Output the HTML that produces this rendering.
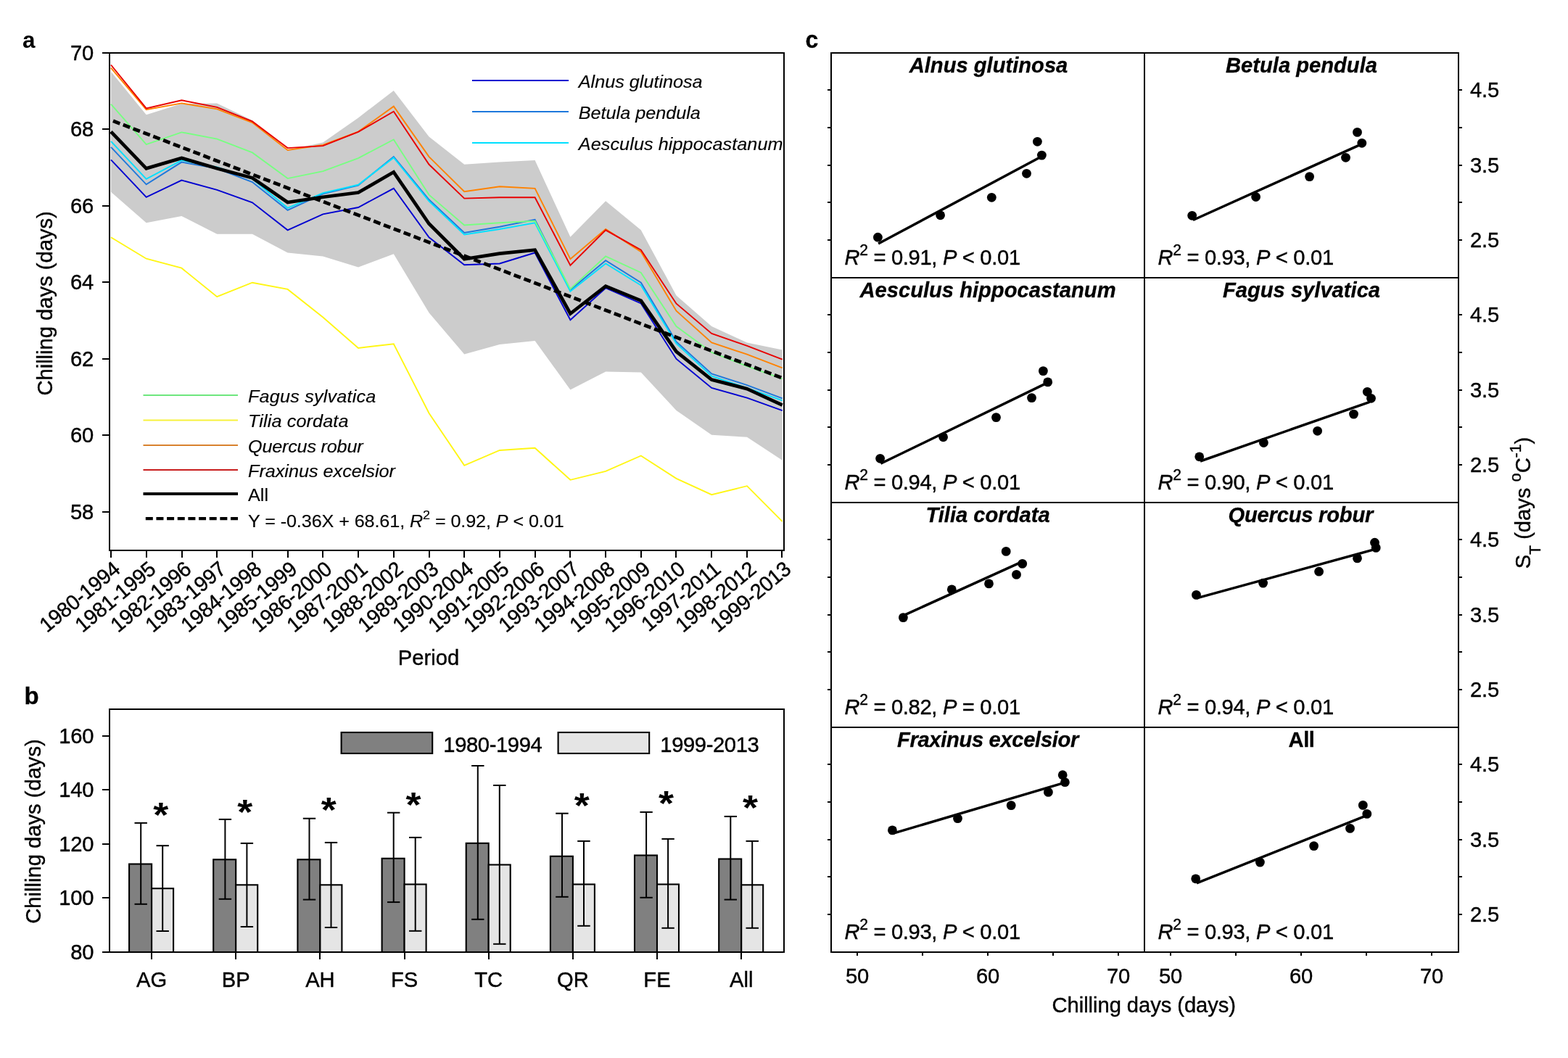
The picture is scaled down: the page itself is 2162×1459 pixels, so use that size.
<!DOCTYPE html>
<html lang="en">
<head>
<meta charset="utf-8">
<title>Chilling days and temperature sensitivity</title>
<style>
html,body{margin:0;padding:0;background:#fff;}
body{width:2162px;height:1459px;overflow:hidden;}
svg{display:block;}
svg text{font-family:"Liberation Sans", sans-serif;fill:#000;}
</style>
</head>
<body>
<svg width="2162" height="1459" viewBox="0 0 2162 1459">
<rect width="2162" height="1459" fill="#fff"/>
<g id="panel-a">
<polyline points="153,98.7 201.7,158.2 250.4,143 299.2,142.4 347.9,166 396.6,207 445.3,196.6 494,162.4 542.8,124.9 591.5,188.6 640.2,226.8 688.9,223.6 737.6,221.1 786.4,326.8 835.1,277.3 883.8,317.3 932.5,407.5 981.2,450 1030,472.4 1078.7,482.4 1078.7,634.8 1030,602.8 981.2,599.8 932.5,566.1 883.8,513.6 835.1,512.4 786.4,537.4 737.6,469.9 688.9,474.9 640.2,488.5 591.5,431.2 542.8,350.2 494,368.5 445.3,353.5 396.6,348.5 347.9,322.8 299.2,322.8 250.4,298 201.7,307.3 153,264.8" fill="#cccccc" stroke="none"/>
<polyline points="153,327.3 201.7,356.7 250.4,369.7 299.2,409.2 347.9,389.7 396.6,398.9 445.3,437.5 494,479.9 542.8,474.2 591.5,569.8 640.2,641.8 688.9,621 737.6,617.8 786.4,661.8 835.1,649.8 883.8,628.5 932.5,659.8 981.2,682.2 1030,670.2 1078.7,719.2" fill="none" stroke="#fff614" stroke-width="1.9" stroke-linejoin="miter"/>
<polyline points="153,220.4 201.7,271.8 250.4,248.6 299.2,261.8 347.9,279.3 396.6,317.3 445.3,295.3 494,286 542.8,259.8 591.5,327.3 640.2,365.2 688.9,363.5 737.6,348.5 786.4,441.2 835.1,397.2 883.8,418.4 932.5,494.9 981.2,534.9 1030,548.6 1078.7,566.1" fill="none" stroke="#0000d0" stroke-width="1.9" stroke-linejoin="miter"/>
<polyline points="153,202.9 201.7,254.3 250.4,223.6 299.2,232.3 347.9,251.1 396.6,289.8 445.3,267.3 494,255.6 542.8,216.1 591.5,275.3 640.2,321 688.9,312.8 737.6,302.8 786.4,399.7 835.1,359.2 883.8,389.7 932.5,471.2 981.2,515.4 1030,531.1 1078.7,549.4" fill="none" stroke="#1e78dc" stroke-width="1.9" stroke-linejoin="miter"/>
<polyline points="153,194.9 201.7,246.8 250.4,221.1 299.2,230.3 347.9,246.8 396.6,286.8 445.3,266.1 494,254.8 542.8,217.4 591.5,277.3 640.2,323.5 688.9,316 737.6,307.3 786.4,401.7 835.1,363.5 883.8,393.4 932.5,473.7 981.2,518.6 1030,534.9 1078.7,552.4" fill="none" stroke="#00e0ff" stroke-width="1.9" stroke-linejoin="miter"/>
<polyline points="153,143.7 201.7,199.1 250.4,182.4 299.2,191.6 347.9,210.4 396.6,246.1 445.3,236.1 494,218.1 542.8,192.4 591.5,268.6 640.2,310.5 688.9,307.3 737.6,304.8 786.4,398.4 835.1,353.5 883.8,376 932.5,450 981.2,486 1030,505 1078.7,522.4" fill="none" stroke="#78ff82" stroke-width="1.9" stroke-linejoin="miter"/>
<polyline points="153,93.7 201.7,151.2 250.4,142.4 299.2,150.4 347.9,169.1 396.6,206.9 445.3,199.9 494,181.6 542.8,146.7 591.5,216.1 640.2,264.3 688.9,257.3 737.6,259.8 786.4,357.2 835.1,316 883.8,347.2 932.5,428.7 981.2,472.4 1030,488.7 1078.7,507.4" fill="none" stroke="#ff8200" stroke-width="1.9" stroke-linejoin="miter"/>
<polyline points="153,89.5 201.7,149.4 250.4,138.2 299.2,147.9 347.9,167.4 396.6,204.1 445.3,201.1 494,181.9 542.8,153.7 591.5,226.8 640.2,273.6 688.9,272.3 737.6,272.3 786.4,366 835.1,317.3 883.8,344.7 932.5,418.7 981.2,459.9 1030,476.9 1078.7,495.7" fill="none" stroke="#e80000" stroke-width="1.9" stroke-linejoin="miter"/>
<polyline points="153,181.6 201.7,232.3 250.4,217.9 299.2,232.3 347.9,245.3 396.6,279 445.3,271.8 494,265.6 542.8,237.3 591.5,308.5 640.2,357.2 688.9,349.7 737.6,344.7 786.4,432.5 835.1,394.7 883.8,414.7 932.5,484.9 981.2,523.6 1030,536.1 1078.7,558.6" fill="none" stroke="#000" stroke-width="4.7" stroke-linejoin="miter"/>
<line x1="156" y1="166.8" x2="1079" y2="521.5" stroke="#000" stroke-width="4.8" stroke-dasharray="10 4.8"/>
<rect x="151" y="73" width="930" height="686" fill="none" stroke="#000" stroke-width="2"/>
<line x1="141" y1="706" x2="151" y2="706" stroke="#000" stroke-width="2"/>
<text transform="translate(129,716.2) scale(1,1.02)" font-size="29.17" text-anchor="end" letter-spacing="-0.2" stroke="#000" stroke-width="0.4">58</text>
<line x1="141" y1="600" x2="151" y2="600" stroke="#000" stroke-width="2"/>
<text transform="translate(129,610.2) scale(1,1.02)" font-size="29.17" text-anchor="end" letter-spacing="-0.2" stroke="#000" stroke-width="0.4">60</text>
<line x1="141" y1="495" x2="151" y2="495" stroke="#000" stroke-width="2"/>
<text transform="translate(129,505.2) scale(1,1.02)" font-size="29.17" text-anchor="end" letter-spacing="-0.2" stroke="#000" stroke-width="0.4">62</text>
<line x1="141" y1="389" x2="151" y2="389" stroke="#000" stroke-width="2"/>
<text transform="translate(129,399.2) scale(1,1.02)" font-size="29.17" text-anchor="end" letter-spacing="-0.2" stroke="#000" stroke-width="0.4">64</text>
<line x1="141" y1="284" x2="151" y2="284" stroke="#000" stroke-width="2"/>
<text transform="translate(129,294.2) scale(1,1.02)" font-size="29.17" text-anchor="end" letter-spacing="-0.2" stroke="#000" stroke-width="0.4">66</text>
<line x1="141" y1="178" x2="151" y2="178" stroke="#000" stroke-width="2"/>
<text transform="translate(129,188.2) scale(1,1.02)" font-size="29.17" text-anchor="end" letter-spacing="-0.2" stroke="#000" stroke-width="0.4">68</text>
<line x1="141" y1="73" x2="151" y2="73" stroke="#000" stroke-width="2"/>
<text transform="translate(129,83.2) scale(1,1.02)" font-size="29.17" text-anchor="end" letter-spacing="-0.2" stroke="#000" stroke-width="0.4">70</text>
<line x1="153" y1="759" x2="153" y2="769" stroke="#000" stroke-width="2"/>
<text transform="translate(167.5,788) rotate(-39.7) scale(1,1.02)" font-size="28.5" text-anchor="end" letter-spacing="-0.3" stroke="#000" stroke-width="0.4">1980-1994</text>
<line x1="202" y1="759" x2="202" y2="769" stroke="#000" stroke-width="2"/>
<text transform="translate(216.5,788) rotate(-39.7) scale(1,1.02)" font-size="28.5" text-anchor="end" letter-spacing="-0.3" stroke="#000" stroke-width="0.4">1981-1995</text>
<line x1="251" y1="759" x2="251" y2="769" stroke="#000" stroke-width="2"/>
<text transform="translate(265.5,788) rotate(-39.7) scale(1,1.02)" font-size="28.5" text-anchor="end" letter-spacing="-0.3" stroke="#000" stroke-width="0.4">1982-1996</text>
<line x1="299" y1="759" x2="299" y2="769" stroke="#000" stroke-width="2"/>
<text transform="translate(313.5,788) rotate(-39.7) scale(1,1.02)" font-size="28.5" text-anchor="end" letter-spacing="-0.3" stroke="#000" stroke-width="0.4">1983-1997</text>
<line x1="348" y1="759" x2="348" y2="769" stroke="#000" stroke-width="2"/>
<text transform="translate(362.5,788) rotate(-39.7) scale(1,1.02)" font-size="28.5" text-anchor="end" letter-spacing="-0.3" stroke="#000" stroke-width="0.4">1984-1998</text>
<line x1="397" y1="759" x2="397" y2="769" stroke="#000" stroke-width="2"/>
<text transform="translate(411.5,788) rotate(-39.7) scale(1,1.02)" font-size="28.5" text-anchor="end" letter-spacing="-0.3" stroke="#000" stroke-width="0.4">1985-1999</text>
<line x1="445" y1="759" x2="445" y2="769" stroke="#000" stroke-width="2"/>
<text transform="translate(459.5,788) rotate(-39.7) scale(1,1.02)" font-size="28.5" text-anchor="end" letter-spacing="-0.3" stroke="#000" stroke-width="0.4">1986-2000</text>
<line x1="494" y1="759" x2="494" y2="769" stroke="#000" stroke-width="2"/>
<text transform="translate(508.5,788) rotate(-39.7) scale(1,1.02)" font-size="28.5" text-anchor="end" letter-spacing="-0.3" stroke="#000" stroke-width="0.4">1987-2001</text>
<line x1="543" y1="759" x2="543" y2="769" stroke="#000" stroke-width="2"/>
<text transform="translate(557.5,788) rotate(-39.7) scale(1,1.02)" font-size="28.5" text-anchor="end" letter-spacing="-0.3" stroke="#000" stroke-width="0.4">1988-2002</text>
<line x1="592" y1="759" x2="592" y2="769" stroke="#000" stroke-width="2"/>
<text transform="translate(606.5,788) rotate(-39.7) scale(1,1.02)" font-size="28.5" text-anchor="end" letter-spacing="-0.3" stroke="#000" stroke-width="0.4">1989-2003</text>
<line x1="640" y1="759" x2="640" y2="769" stroke="#000" stroke-width="2"/>
<text transform="translate(654.5,788) rotate(-39.7) scale(1,1.02)" font-size="28.5" text-anchor="end" letter-spacing="-0.3" stroke="#000" stroke-width="0.4">1990-2004</text>
<line x1="689" y1="759" x2="689" y2="769" stroke="#000" stroke-width="2"/>
<text transform="translate(703.5,788) rotate(-39.7) scale(1,1.02)" font-size="28.5" text-anchor="end" letter-spacing="-0.3" stroke="#000" stroke-width="0.4">1991-2005</text>
<line x1="738" y1="759" x2="738" y2="769" stroke="#000" stroke-width="2"/>
<text transform="translate(752.5,788) rotate(-39.7) scale(1,1.02)" font-size="28.5" text-anchor="end" letter-spacing="-0.3" stroke="#000" stroke-width="0.4">1992-2006</text>
<line x1="786" y1="759" x2="786" y2="769" stroke="#000" stroke-width="2"/>
<text transform="translate(800.5,788) rotate(-39.7) scale(1,1.02)" font-size="28.5" text-anchor="end" letter-spacing="-0.3" stroke="#000" stroke-width="0.4">1993-2007</text>
<line x1="835" y1="759" x2="835" y2="769" stroke="#000" stroke-width="2"/>
<text transform="translate(849.5,788) rotate(-39.7) scale(1,1.02)" font-size="28.5" text-anchor="end" letter-spacing="-0.3" stroke="#000" stroke-width="0.4">1994-2008</text>
<line x1="884" y1="759" x2="884" y2="769" stroke="#000" stroke-width="2"/>
<text transform="translate(898.5,788) rotate(-39.7) scale(1,1.02)" font-size="28.5" text-anchor="end" letter-spacing="-0.3" stroke="#000" stroke-width="0.4">1995-2009</text>
<line x1="932" y1="759" x2="932" y2="769" stroke="#000" stroke-width="2"/>
<text transform="translate(946.5,788) rotate(-39.7) scale(1,1.02)" font-size="28.5" text-anchor="end" letter-spacing="-0.3" stroke="#000" stroke-width="0.4">1996-2010</text>
<line x1="981" y1="759" x2="981" y2="769" stroke="#000" stroke-width="2"/>
<text transform="translate(995.5,788) rotate(-39.7) scale(1,1.02)" font-size="28.5" text-anchor="end" letter-spacing="-0.3" stroke="#000" stroke-width="0.4">1997-2011</text>
<line x1="1030" y1="759" x2="1030" y2="769" stroke="#000" stroke-width="2"/>
<text transform="translate(1044.5,788) rotate(-39.7) scale(1,1.02)" font-size="28.5" text-anchor="end" letter-spacing="-0.3" stroke="#000" stroke-width="0.4">1998-2012</text>
<line x1="1078" y1="759" x2="1078" y2="769" stroke="#000" stroke-width="2"/>
<text transform="translate(1092.5,788) rotate(-39.7) scale(1,1.02)" font-size="28.5" text-anchor="end" letter-spacing="-0.3" stroke="#000" stroke-width="0.4">1999-2013</text>
<text transform="translate(72.3,418.4) rotate(-90) scale(1,1.02)" font-size="29.17" text-anchor="middle" stroke="#000" stroke-width="0.4">Chilling days (days)</text>
<text transform="translate(591,916.5) scale(1,1.02)" font-size="29.17" text-anchor="middle" stroke="#000" stroke-width="0.4">Period</text>
<text transform="translate(31,65.5) scale(1,1.02)" font-size="31.5" font-weight="bold">a</text>
<line x1="651" y1="111" x2="784" y2="111" stroke="#0000d0" stroke-width="2"/>
<text transform="translate(797.8,120.9) scale(1,0.96)" font-size="25.2" font-style="italic" stroke="#000" stroke-width="0.15">Alnus glutinosa</text>
<line x1="651" y1="154" x2="784" y2="154" stroke="#1e78dc" stroke-width="2"/>
<text transform="translate(797.8,163.9) scale(1,0.96)" font-size="25.2" font-style="italic" stroke="#000" stroke-width="0.15">Betula pendula</text>
<line x1="651" y1="197" x2="784" y2="197" stroke="#00e0ff" stroke-width="2"/>
<text transform="translate(797.8,206.9) scale(1,0.96)" font-size="25.2" font-style="italic" letter-spacing="0.08" stroke="#000" stroke-width="0.15">Aesculus hippocastanum</text>
<line x1="197.5" y1="545" x2="328" y2="545" stroke="#6ee67e" stroke-width="2"/>
<text transform="translate(342,554.6) scale(1,0.96)" font-size="25.2" font-style="italic" letter-spacing="0.19" stroke="#000" stroke-width="0.15">Fagus sylvatica</text>
<line x1="197.5" y1="579.6" x2="328" y2="579.6" stroke="#f7f23c" stroke-width="2"/>
<text transform="translate(342,589.2) scale(1,0.96)" font-size="25.2" font-style="italic" letter-spacing="0.12" stroke="#000" stroke-width="0.15">Tilia cordata</text>
<line x1="197.5" y1="614" x2="328" y2="614" stroke="#d8822e" stroke-width="2"/>
<text transform="translate(342,623.6) scale(1,0.96)" font-size="25.2" font-style="italic" letter-spacing="-0.2" stroke="#000" stroke-width="0.15">Quercus robur</text>
<line x1="197.5" y1="648" x2="328" y2="648" stroke="#c81e1e" stroke-width="2"/>
<text transform="translate(342,657.6) scale(1,0.96)" font-size="25.2" font-style="italic" stroke="#000" stroke-width="0.15">Fraxinus excelsior</text>
<line x1="197.5" y1="681" x2="328" y2="681" stroke="#000" stroke-width="4"/>
<text transform="translate(342,690.5) scale(1,0.96)" font-size="25.2" stroke="#000" stroke-width="0.15">All</text>
<line x1="200.8" y1="715.2" x2="328" y2="715.2" stroke="#000" stroke-width="4.3" stroke-dasharray="10 4.65"/>
<text transform="translate(342,727.3) scale(1,0.96)" font-size="25.2" letter-spacing="-0.1" stroke="#000" stroke-width="0.15">Y = -0.36X + 68.61, <tspan font-style="italic">R</tspan><tspan font-size="18" dy="-11.5">2</tspan><tspan dy="11.5"> = 0.92, </tspan><tspan font-style="italic">P</tspan> &lt; 0.01</text>
</g>
<g id="panel-b">
<rect x="178.1" y="1191.5" width="31" height="121.5" fill="#808080" stroke="#000" stroke-width="2.1"/>
<rect x="209.1" y="1225.2" width="30" height="87.8" fill="#e5e5e5" stroke="#000" stroke-width="2.1"/>
<line x1="194.2" y1="1134.9" x2="194.2" y2="1246.8" stroke="#000" stroke-width="2"/>
<line x1="185.5" y1="1134.9" x2="202.9" y2="1134.9" stroke="#000" stroke-width="2"/>
<line x1="185.5" y1="1246.8" x2="202.9" y2="1246.8" stroke="#000" stroke-width="2"/>
<line x1="224.2" y1="1166.2" x2="224.2" y2="1284" stroke="#000" stroke-width="2"/>
<line x1="215.5" y1="1166.2" x2="232.9" y2="1166.2" stroke="#000" stroke-width="2"/>
<line x1="215.5" y1="1284" x2="232.9" y2="1284" stroke="#000" stroke-width="2"/>
<line x1="209" y1="1313" x2="209" y2="1323" stroke="#000" stroke-width="2"/>
<text transform="translate(209.1,1361) scale(1,1.02)" font-size="29.17" text-anchor="middle" stroke="#000" stroke-width="0.4">AG</text>
<text transform="translate(221.8,1140) scale(1,0.9)" font-size="54" text-anchor="middle" font-weight="bold">*</text>
<rect x="294.2" y="1185.3" width="31" height="127.7" fill="#808080" stroke="#000" stroke-width="2.1"/>
<rect x="325.2" y="1220.3" width="30" height="92.7" fill="#e5e5e5" stroke="#000" stroke-width="2.1"/>
<line x1="310.4" y1="1129.9" x2="310.4" y2="1239.8" stroke="#000" stroke-width="2"/>
<line x1="301.7" y1="1129.9" x2="319.1" y2="1129.9" stroke="#000" stroke-width="2"/>
<line x1="301.7" y1="1239.8" x2="319.1" y2="1239.8" stroke="#000" stroke-width="2"/>
<line x1="340.4" y1="1162.9" x2="340.4" y2="1278" stroke="#000" stroke-width="2"/>
<line x1="331.7" y1="1162.9" x2="349.1" y2="1162.9" stroke="#000" stroke-width="2"/>
<line x1="331.7" y1="1278" x2="349.1" y2="1278" stroke="#000" stroke-width="2"/>
<line x1="325" y1="1313" x2="325" y2="1323" stroke="#000" stroke-width="2"/>
<text transform="translate(325.25,1361) scale(1,1.02)" font-size="29.17" text-anchor="middle" stroke="#000" stroke-width="0.4">BP</text>
<text transform="translate(337.7,1135.5) scale(1,0.9)" font-size="54" text-anchor="middle" font-weight="bold">*</text>
<rect x="410.4" y="1185.3" width="31" height="127.7" fill="#808080" stroke="#000" stroke-width="2.1"/>
<rect x="441.4" y="1220.3" width="30" height="92.7" fill="#e5e5e5" stroke="#000" stroke-width="2.1"/>
<line x1="426.5" y1="1128.7" x2="426.5" y2="1240.6" stroke="#000" stroke-width="2"/>
<line x1="417.8" y1="1128.7" x2="435.2" y2="1128.7" stroke="#000" stroke-width="2"/>
<line x1="417.8" y1="1240.6" x2="435.2" y2="1240.6" stroke="#000" stroke-width="2"/>
<line x1="456.5" y1="1161.9" x2="456.5" y2="1279" stroke="#000" stroke-width="2"/>
<line x1="447.8" y1="1161.9" x2="465.2" y2="1161.9" stroke="#000" stroke-width="2"/>
<line x1="447.8" y1="1279" x2="465.2" y2="1279" stroke="#000" stroke-width="2"/>
<line x1="441" y1="1313" x2="441" y2="1323" stroke="#000" stroke-width="2"/>
<text transform="translate(441.4,1361) scale(1,1.02)" font-size="29.17" text-anchor="middle" stroke="#000" stroke-width="0.4">AH</text>
<text transform="translate(453.3,1133.2) scale(1,0.9)" font-size="54" text-anchor="middle" font-weight="bold">*</text>
<rect x="526.6" y="1183.8" width="31" height="129.2" fill="#808080" stroke="#000" stroke-width="2.1"/>
<rect x="557.6" y="1219.5" width="30" height="93.5" fill="#e5e5e5" stroke="#000" stroke-width="2.1"/>
<line x1="542.7" y1="1120.7" x2="542.7" y2="1244.1" stroke="#000" stroke-width="2"/>
<line x1="534" y1="1120.7" x2="551.4" y2="1120.7" stroke="#000" stroke-width="2"/>
<line x1="534" y1="1244.1" x2="551.4" y2="1244.1" stroke="#000" stroke-width="2"/>
<line x1="572.7" y1="1154.9" x2="572.7" y2="1283.8" stroke="#000" stroke-width="2"/>
<line x1="564" y1="1154.9" x2="581.4" y2="1154.9" stroke="#000" stroke-width="2"/>
<line x1="564" y1="1283.8" x2="581.4" y2="1283.8" stroke="#000" stroke-width="2"/>
<line x1="558" y1="1313" x2="558" y2="1323" stroke="#000" stroke-width="2"/>
<text transform="translate(557.55,1361) scale(1,1.02)" font-size="29.17" text-anchor="middle" stroke="#000" stroke-width="0.4">FS</text>
<text transform="translate(570,1125.8) scale(1,0.9)" font-size="54" text-anchor="middle" font-weight="bold">*</text>
<rect x="642.7" y="1162.8" width="31" height="150.2" fill="#808080" stroke="#000" stroke-width="2.1"/>
<rect x="673.7" y="1192.5" width="30" height="120.5" fill="#e5e5e5" stroke="#000" stroke-width="2.1"/>
<line x1="658.8" y1="1056" x2="658.8" y2="1267.8" stroke="#000" stroke-width="2"/>
<line x1="650.1" y1="1056" x2="667.5" y2="1056" stroke="#000" stroke-width="2"/>
<line x1="650.1" y1="1267.8" x2="667.5" y2="1267.8" stroke="#000" stroke-width="2"/>
<line x1="688.8" y1="1083" x2="688.8" y2="1301.8" stroke="#000" stroke-width="2"/>
<line x1="680.1" y1="1083" x2="697.5" y2="1083" stroke="#000" stroke-width="2"/>
<line x1="680.1" y1="1301.8" x2="697.5" y2="1301.8" stroke="#000" stroke-width="2"/>
<line x1="674" y1="1313" x2="674" y2="1323" stroke="#000" stroke-width="2"/>
<text transform="translate(673.7,1361) scale(1,1.02)" font-size="29.17" text-anchor="middle" stroke="#000" stroke-width="0.4">TC</text>
<rect x="758.9" y="1180.8" width="31" height="132.2" fill="#808080" stroke="#000" stroke-width="2.1"/>
<rect x="789.9" y="1219.5" width="30" height="93.5" fill="#e5e5e5" stroke="#000" stroke-width="2.1"/>
<line x1="775" y1="1121.7" x2="775" y2="1236.8" stroke="#000" stroke-width="2"/>
<line x1="766.2" y1="1121.7" x2="783.7" y2="1121.7" stroke="#000" stroke-width="2"/>
<line x1="766.2" y1="1236.8" x2="783.7" y2="1236.8" stroke="#000" stroke-width="2"/>
<line x1="805" y1="1159.9" x2="805" y2="1276.8" stroke="#000" stroke-width="2"/>
<line x1="796.2" y1="1159.9" x2="813.7" y2="1159.9" stroke="#000" stroke-width="2"/>
<line x1="796.2" y1="1276.8" x2="813.7" y2="1276.8" stroke="#000" stroke-width="2"/>
<line x1="790" y1="1313" x2="790" y2="1323" stroke="#000" stroke-width="2"/>
<text transform="translate(789.85,1361) scale(1,1.02)" font-size="29.17" text-anchor="middle" stroke="#000" stroke-width="0.4">QR</text>
<text transform="translate(802.3,1127.1) scale(1,0.9)" font-size="54" text-anchor="middle" font-weight="bold">*</text>
<rect x="875" y="1179.5" width="31" height="133.5" fill="#808080" stroke="#000" stroke-width="2.1"/>
<rect x="906" y="1219.5" width="30" height="93.5" fill="#e5e5e5" stroke="#000" stroke-width="2.1"/>
<line x1="891.1" y1="1119.9" x2="891.1" y2="1237.8" stroke="#000" stroke-width="2"/>
<line x1="882.4" y1="1119.9" x2="899.8" y2="1119.9" stroke="#000" stroke-width="2"/>
<line x1="882.4" y1="1237.8" x2="899.8" y2="1237.8" stroke="#000" stroke-width="2"/>
<line x1="921.1" y1="1156.9" x2="921.1" y2="1279.8" stroke="#000" stroke-width="2"/>
<line x1="912.4" y1="1156.9" x2="929.8" y2="1156.9" stroke="#000" stroke-width="2"/>
<line x1="912.4" y1="1279.8" x2="929.8" y2="1279.8" stroke="#000" stroke-width="2"/>
<line x1="906" y1="1313" x2="906" y2="1323" stroke="#000" stroke-width="2"/>
<text transform="translate(906,1361) scale(1,1.02)" font-size="29.17" text-anchor="middle" stroke="#000" stroke-width="0.4">FE</text>
<text transform="translate(918.4,1124.4) scale(1,0.9)" font-size="54" text-anchor="middle" font-weight="bold">*</text>
<rect x="991.2" y="1184.5" width="31" height="128.5" fill="#808080" stroke="#000" stroke-width="2.1"/>
<rect x="1022.2" y="1220.3" width="30" height="92.7" fill="#e5e5e5" stroke="#000" stroke-width="2.1"/>
<line x1="1007.3" y1="1125.9" x2="1007.3" y2="1240.6" stroke="#000" stroke-width="2"/>
<line x1="998.6" y1="1125.9" x2="1016" y2="1125.9" stroke="#000" stroke-width="2"/>
<line x1="998.6" y1="1240.6" x2="1016" y2="1240.6" stroke="#000" stroke-width="2"/>
<line x1="1037.2" y1="1159.9" x2="1037.2" y2="1279.8" stroke="#000" stroke-width="2"/>
<line x1="1028.5" y1="1159.9" x2="1046" y2="1159.9" stroke="#000" stroke-width="2"/>
<line x1="1028.5" y1="1279.8" x2="1046" y2="1279.8" stroke="#000" stroke-width="2"/>
<line x1="1022" y1="1313" x2="1022" y2="1323" stroke="#000" stroke-width="2"/>
<text transform="translate(1022.15,1361) scale(1,1.02)" font-size="29.17" text-anchor="middle" stroke="#000" stroke-width="0.4">All</text>
<text transform="translate(1034.5,1130.1) scale(1,0.9)" font-size="54" text-anchor="middle" font-weight="bold">*</text>
<rect x="151" y="978" width="930" height="335" fill="none" stroke="#000" stroke-width="2"/>
<line x1="141" y1="1313" x2="151" y2="1313" stroke="#000" stroke-width="2"/>
<text transform="translate(129.2,1323.2) scale(1,1.02)" font-size="29.17" text-anchor="end" letter-spacing="-0.2" stroke="#000" stroke-width="0.4">80</text>
<line x1="141" y1="1238" x2="151" y2="1238" stroke="#000" stroke-width="2"/>
<text transform="translate(129.2,1248.2) scale(1,1.02)" font-size="29.17" text-anchor="end" letter-spacing="-0.2" stroke="#000" stroke-width="0.4">100</text>
<line x1="141" y1="1164" x2="151" y2="1164" stroke="#000" stroke-width="2"/>
<text transform="translate(129.2,1174.2) scale(1,1.02)" font-size="29.17" text-anchor="end" letter-spacing="-0.2" stroke="#000" stroke-width="0.4">120</text>
<line x1="141" y1="1089" x2="151" y2="1089" stroke="#000" stroke-width="2"/>
<text transform="translate(129.2,1099.2) scale(1,1.02)" font-size="29.17" text-anchor="end" letter-spacing="-0.2" stroke="#000" stroke-width="0.4">140</text>
<line x1="141" y1="1015" x2="151" y2="1015" stroke="#000" stroke-width="2"/>
<text transform="translate(129.2,1025.2) scale(1,1.02)" font-size="29.17" text-anchor="end" letter-spacing="-0.2" stroke="#000" stroke-width="0.4">160</text>
<text transform="translate(55.7,1146.5) rotate(-90) scale(1,1.02)" font-size="29.17" text-anchor="middle" stroke="#000" stroke-width="0.4">Chilling days (days)</text>
<text transform="translate(33.6,971) scale(1,1.02)" font-size="33" font-weight="bold" stroke="#000" stroke-width="0.3">b</text>
<rect x="470.6" y="1010" width="125.6" height="29" fill="#808080" stroke="#000" stroke-width="2.1"/>
<text transform="translate(611.3,1036.5) scale(1,1.02)" font-size="29.17" letter-spacing="-0.38" stroke="#000" stroke-width="0.4">1980-1994</text>
<rect x="769.6" y="1010" width="125.6" height="29" fill="#e5e5e5" stroke="#000" stroke-width="2.1"/>
<text transform="translate(910.3,1036.5) scale(1,1.02)" font-size="29.17" letter-spacing="-0.38" stroke="#000" stroke-width="0.4">1999-2013</text>
</g>
<g id="panel-c">
<line x1="1211.1" y1="336" x2="1433.4" y2="217.3" stroke="#000" stroke-width="3.5"/>
<circle cx="1210.4" cy="327.2" r="6.4"/>
<circle cx="1296.6" cy="296.8" r="6.4"/>
<circle cx="1367.3" cy="272.3" r="6.4"/>
<circle cx="1415.5" cy="239.3" r="6.4"/>
<circle cx="1430.4" cy="195.3" r="6.4"/>
<circle cx="1436.4" cy="214.1" r="6.4"/>
<text transform="translate(1363,100.3) scale(1,0.98)" font-size="29.17" text-anchor="middle" font-weight="bold" font-style="italic" stroke="#000" stroke-width="0.3">Alnus glutinosa</text>
<text transform="translate(1164.5,365) scale(1,1.02)" font-size="29.17" letter-spacing="-0.32" stroke="#000" stroke-width="0.4"><tspan font-style="italic">R</tspan><tspan font-size="21" dy="-12.6">2</tspan><tspan dy="12.6"> = 0.91, </tspan><tspan font-style="italic">P</tspan> &lt; 0.01</text>
<line x1="1645" y1="303.5" x2="1874.8" y2="199.8" stroke="#000" stroke-width="3.5"/>
<circle cx="1643.7" cy="297.3" r="6.4"/>
<circle cx="1731.6" cy="271.5" r="6.4"/>
<circle cx="1805.6" cy="243.6" r="6.4"/>
<circle cx="1855.5" cy="217.3" r="6.4"/>
<circle cx="1871.5" cy="182.4" r="6.4"/>
<circle cx="1877.8" cy="197.3" r="6.4"/>
<text transform="translate(1794.5,100.3) scale(1,0.98)" font-size="29.17" text-anchor="middle" font-weight="bold" font-style="italic" stroke="#000" stroke-width="0.3">Betula pendula</text>
<text transform="translate(1596.5,365) scale(1,1.02)" font-size="29.17" letter-spacing="-0.32" stroke="#000" stroke-width="0.4"><tspan font-style="italic">R</tspan><tspan font-size="21" dy="-12.6">2</tspan><tspan dy="12.6"> = 0.93, </tspan><tspan font-style="italic">P</tspan> &lt; 0.01</text>
<line x1="1214.4" y1="639.3" x2="1440.9" y2="529.4" stroke="#000" stroke-width="3.5"/>
<circle cx="1213.6" cy="632.3" r="6.4"/>
<circle cx="1300.6" cy="602.8" r="6.4"/>
<circle cx="1373.5" cy="575.6" r="6.4"/>
<circle cx="1422.5" cy="548.6" r="6.4"/>
<circle cx="1438.4" cy="511.6" r="6.4"/>
<circle cx="1444.7" cy="526.9" r="6.4"/>
<text transform="translate(1362,410.3) scale(1,0.98)" font-size="29.17" text-anchor="middle" font-weight="bold" font-style="italic" stroke="#000" stroke-width="0.3">Aesculus hippocastanum</text>
<text transform="translate(1164.5,675) scale(1,1.02)" font-size="29.17" letter-spacing="-0.32" stroke="#000" stroke-width="0.4"><tspan font-style="italic">R</tspan><tspan font-size="21" dy="-12.6">2</tspan><tspan dy="12.6"> = 0.94, </tspan><tspan font-style="italic">P</tspan> &lt; 0.01</text>
<line x1="1655" y1="636" x2="1888.5" y2="554.3" stroke="#000" stroke-width="3.5"/>
<circle cx="1653.7" cy="629.8" r="6.4"/>
<circle cx="1742.4" cy="610.5" r="6.4"/>
<circle cx="1816.6" cy="594.3" r="6.4"/>
<circle cx="1866.5" cy="571.1" r="6.4"/>
<circle cx="1885.3" cy="540.3" r="6.4"/>
<circle cx="1890.5" cy="549.3" r="6.4"/>
<text transform="translate(1794.5,410.3) scale(1,0.98)" font-size="29.17" text-anchor="middle" font-weight="bold" font-style="italic" stroke="#000" stroke-width="0.3">Fagus sylvatica</text>
<text transform="translate(1596.5,675) scale(1,1.02)" font-size="29.17" letter-spacing="-0.32" stroke="#000" stroke-width="0.4"><tspan font-style="italic">R</tspan><tspan font-size="21" dy="-12.6">2</tspan><tspan dy="12.6"> = 0.90, </tspan><tspan font-style="italic">P</tspan> &lt; 0.01</text>
<line x1="1246.1" y1="848.6" x2="1406" y2="776.2" stroke="#000" stroke-width="3.5"/>
<circle cx="1245.4" cy="851.6" r="6.4"/>
<circle cx="1312.3" cy="812.9" r="6.4"/>
<circle cx="1363.5" cy="804.9" r="6.4"/>
<circle cx="1387.2" cy="760.4" r="6.4"/>
<circle cx="1401.5" cy="792.4" r="6.4"/>
<circle cx="1409.7" cy="777.4" r="6.4"/>
<text transform="translate(1362,720.3) scale(1,0.98)" font-size="29.17" text-anchor="middle" font-weight="bold" font-style="italic" stroke="#000" stroke-width="0.3">Tilia cordata</text>
<text transform="translate(1164.5,985) scale(1,1.02)" font-size="29.17" letter-spacing="-0.32" stroke="#000" stroke-width="0.4"><tspan font-style="italic">R</tspan><tspan font-size="21" dy="-12.6">2</tspan><tspan dy="12.6"> = 0.82, </tspan><tspan font-style="italic">P</tspan> = 0.01</text>
<line x1="1650" y1="824.9" x2="1896" y2="757.4" stroke="#000" stroke-width="3.5"/>
<circle cx="1649.5" cy="820.4" r="6.4"/>
<circle cx="1741.6" cy="804.1" r="6.4"/>
<circle cx="1818.6" cy="788.2" r="6.4"/>
<circle cx="1871.5" cy="769.9" r="6.4"/>
<circle cx="1895.5" cy="748.2" r="6.4"/>
<circle cx="1897.2" cy="755.4" r="6.4"/>
<text transform="translate(1793.3,720.3) scale(1,0.98)" font-size="29.17" text-anchor="middle" font-weight="bold" font-style="italic" letter-spacing="-0.22" stroke="#000" stroke-width="0.3">Quercus robur</text>
<text transform="translate(1596.5,985) scale(1,1.02)" font-size="29.17" letter-spacing="-0.32" stroke="#000" stroke-width="0.4"><tspan font-style="italic">R</tspan><tspan font-size="21" dy="-12.6">2</tspan><tspan dy="12.6"> = 0.94, </tspan><tspan font-style="italic">P</tspan> &lt; 0.01</text>
<line x1="1231.1" y1="1149.4" x2="1465.9" y2="1079.9" stroke="#000" stroke-width="3.5"/>
<circle cx="1230.4" cy="1144.9" r="6.4"/>
<circle cx="1320.5" cy="1128.6" r="6.4"/>
<circle cx="1394.2" cy="1110.6" r="6.4"/>
<circle cx="1445.4" cy="1092.4" r="6.4"/>
<circle cx="1465.2" cy="1068.7" r="6.4"/>
<circle cx="1468.4" cy="1078.7" r="6.4"/>
<text transform="translate(1362,1030.3) scale(1,0.98)" font-size="29.17" text-anchor="middle" font-weight="bold" font-style="italic" letter-spacing="-0.33" stroke="#000" stroke-width="0.3">Fraxinus excelsior</text>
<text transform="translate(1164.5,1295) scale(1,1.02)" font-size="29.17" letter-spacing="-0.32" stroke="#000" stroke-width="0.4"><tspan font-style="italic">R</tspan><tspan font-size="21" dy="-12.6">2</tspan><tspan dy="12.6"> = 0.93, </tspan><tspan font-style="italic">P</tspan> &lt; 0.01</text>
<line x1="1650" y1="1217.8" x2="1882.3" y2="1125.4" stroke="#000" stroke-width="3.5"/>
<circle cx="1648.7" cy="1211.8" r="6.4"/>
<circle cx="1737.4" cy="1189.1" r="6.4"/>
<circle cx="1811.6" cy="1166.6" r="6.4"/>
<circle cx="1861.5" cy="1142.4" r="6.4"/>
<circle cx="1879.3" cy="1110.4" r="6.4"/>
<circle cx="1884.8" cy="1122.4" r="6.4"/>
<text transform="translate(1794.5,1030.3) scale(1,0.98)" font-size="29.17" text-anchor="middle" font-weight="bold" letter-spacing="-0.5" stroke="#000" stroke-width="0.3">All</text>
<text transform="translate(1596.5,1295) scale(1,1.02)" font-size="29.17" letter-spacing="-0.32" stroke="#000" stroke-width="0.4"><tspan font-style="italic">R</tspan><tspan font-size="21" dy="-12.6">2</tspan><tspan dy="12.6"> = 0.93, </tspan><tspan font-style="italic">P</tspan> &lt; 0.01</text>
<rect x="1146" y="73" width="865" height="1240" fill="none" stroke="#000" stroke-width="2"/>
<line x1="1578" y1="73" x2="1578" y2="1313" stroke="#000" stroke-width="2"/>
<line x1="1146" y1="383" x2="2011" y2="383" stroke="#000" stroke-width="2"/>
<line x1="1146" y1="693" x2="2011" y2="693" stroke="#000" stroke-width="2"/>
<line x1="1146" y1="1003" x2="2011" y2="1003" stroke="#000" stroke-width="2"/>
<line x1="1141" y1="124" x2="1146" y2="124" stroke="#000" stroke-width="2"/>
<line x1="2011" y1="124" x2="2016" y2="124" stroke="#000" stroke-width="2"/>
<text transform="translate(2027,134.2) scale(1,1.02)" font-size="29.17" letter-spacing="-0.2" stroke="#000" stroke-width="0.4">4.5</text>
<line x1="1141" y1="176" x2="1146" y2="176" stroke="#000" stroke-width="2"/>
<line x1="2011" y1="176" x2="2016" y2="176" stroke="#000" stroke-width="2"/>
<line x1="1141" y1="228" x2="1146" y2="228" stroke="#000" stroke-width="2"/>
<line x1="2011" y1="228" x2="2016" y2="228" stroke="#000" stroke-width="2"/>
<text transform="translate(2027,238.2) scale(1,1.02)" font-size="29.17" letter-spacing="-0.2" stroke="#000" stroke-width="0.4">3.5</text>
<line x1="1141" y1="279" x2="1146" y2="279" stroke="#000" stroke-width="2"/>
<line x1="2011" y1="279" x2="2016" y2="279" stroke="#000" stroke-width="2"/>
<line x1="1141" y1="331" x2="1146" y2="331" stroke="#000" stroke-width="2"/>
<line x1="2011" y1="331" x2="2016" y2="331" stroke="#000" stroke-width="2"/>
<text transform="translate(2027,341.2) scale(1,1.02)" font-size="29.17" letter-spacing="-0.2" stroke="#000" stroke-width="0.4">2.5</text>
<line x1="1141" y1="434" x2="1146" y2="434" stroke="#000" stroke-width="2"/>
<line x1="2011" y1="434" x2="2016" y2="434" stroke="#000" stroke-width="2"/>
<text transform="translate(2027,444.2) scale(1,1.02)" font-size="29.17" letter-spacing="-0.2" stroke="#000" stroke-width="0.4">4.5</text>
<line x1="1141" y1="486" x2="1146" y2="486" stroke="#000" stroke-width="2"/>
<line x1="2011" y1="486" x2="2016" y2="486" stroke="#000" stroke-width="2"/>
<line x1="1141" y1="538" x2="1146" y2="538" stroke="#000" stroke-width="2"/>
<line x1="2011" y1="538" x2="2016" y2="538" stroke="#000" stroke-width="2"/>
<text transform="translate(2027,548.2) scale(1,1.02)" font-size="29.17" letter-spacing="-0.2" stroke="#000" stroke-width="0.4">3.5</text>
<line x1="1141" y1="589" x2="1146" y2="589" stroke="#000" stroke-width="2"/>
<line x1="2011" y1="589" x2="2016" y2="589" stroke="#000" stroke-width="2"/>
<line x1="1141" y1="641" x2="1146" y2="641" stroke="#000" stroke-width="2"/>
<line x1="2011" y1="641" x2="2016" y2="641" stroke="#000" stroke-width="2"/>
<text transform="translate(2027,651.2) scale(1,1.02)" font-size="29.17" letter-spacing="-0.2" stroke="#000" stroke-width="0.4">2.5</text>
<line x1="1141" y1="744" x2="1146" y2="744" stroke="#000" stroke-width="2"/>
<line x1="2011" y1="744" x2="2016" y2="744" stroke="#000" stroke-width="2"/>
<text transform="translate(2027,754.2) scale(1,1.02)" font-size="29.17" letter-spacing="-0.2" stroke="#000" stroke-width="0.4">4.5</text>
<line x1="1141" y1="796" x2="1146" y2="796" stroke="#000" stroke-width="2"/>
<line x1="2011" y1="796" x2="2016" y2="796" stroke="#000" stroke-width="2"/>
<line x1="1141" y1="848" x2="1146" y2="848" stroke="#000" stroke-width="2"/>
<line x1="2011" y1="848" x2="2016" y2="848" stroke="#000" stroke-width="2"/>
<text transform="translate(2027,858.2) scale(1,1.02)" font-size="29.17" letter-spacing="-0.2" stroke="#000" stroke-width="0.4">3.5</text>
<line x1="1141" y1="899" x2="1146" y2="899" stroke="#000" stroke-width="2"/>
<line x1="2011" y1="899" x2="2016" y2="899" stroke="#000" stroke-width="2"/>
<line x1="1141" y1="951" x2="1146" y2="951" stroke="#000" stroke-width="2"/>
<line x1="2011" y1="951" x2="2016" y2="951" stroke="#000" stroke-width="2"/>
<text transform="translate(2027,961.2) scale(1,1.02)" font-size="29.17" letter-spacing="-0.2" stroke="#000" stroke-width="0.4">2.5</text>
<line x1="1141" y1="1054" x2="1146" y2="1054" stroke="#000" stroke-width="2"/>
<line x1="2011" y1="1054" x2="2016" y2="1054" stroke="#000" stroke-width="2"/>
<text transform="translate(2027,1064.2) scale(1,1.02)" font-size="29.17" letter-spacing="-0.2" stroke="#000" stroke-width="0.4">4.5</text>
<line x1="1141" y1="1106" x2="1146" y2="1106" stroke="#000" stroke-width="2"/>
<line x1="2011" y1="1106" x2="2016" y2="1106" stroke="#000" stroke-width="2"/>
<line x1="1141" y1="1158" x2="1146" y2="1158" stroke="#000" stroke-width="2"/>
<line x1="2011" y1="1158" x2="2016" y2="1158" stroke="#000" stroke-width="2"/>
<text transform="translate(2027,1168.2) scale(1,1.02)" font-size="29.17" letter-spacing="-0.2" stroke="#000" stroke-width="0.4">3.5</text>
<line x1="1141" y1="1209" x2="1146" y2="1209" stroke="#000" stroke-width="2"/>
<line x1="2011" y1="1209" x2="2016" y2="1209" stroke="#000" stroke-width="2"/>
<line x1="1141" y1="1261" x2="1146" y2="1261" stroke="#000" stroke-width="2"/>
<line x1="2011" y1="1261" x2="2016" y2="1261" stroke="#000" stroke-width="2"/>
<text transform="translate(2027,1271.2) scale(1,1.02)" font-size="29.17" letter-spacing="-0.2" stroke="#000" stroke-width="0.4">2.5</text>
<line x1="1182" y1="1313" x2="1182" y2="1318" stroke="#000" stroke-width="2"/>
<text transform="translate(1182,1355.8) scale(1,1.02)" font-size="29.17" text-anchor="middle" letter-spacing="-0.2" stroke="#000" stroke-width="0.4">50</text>
<line x1="1272" y1="1313" x2="1272" y2="1318" stroke="#000" stroke-width="2"/>
<line x1="1362" y1="1313" x2="1362" y2="1318" stroke="#000" stroke-width="2"/>
<text transform="translate(1362,1355.8) scale(1,1.02)" font-size="29.17" text-anchor="middle" letter-spacing="-0.2" stroke="#000" stroke-width="0.4">60</text>
<line x1="1452" y1="1313" x2="1452" y2="1318" stroke="#000" stroke-width="2"/>
<line x1="1542" y1="1313" x2="1542" y2="1318" stroke="#000" stroke-width="2"/>
<text transform="translate(1542,1355.8) scale(1,1.02)" font-size="29.17" text-anchor="middle" letter-spacing="-0.2" stroke="#000" stroke-width="0.4">70</text>
<line x1="1614" y1="1313" x2="1614" y2="1318" stroke="#000" stroke-width="2"/>
<text transform="translate(1614,1355.8) scale(1,1.02)" font-size="29.17" text-anchor="middle" letter-spacing="-0.2" stroke="#000" stroke-width="0.4">50</text>
<line x1="1704" y1="1313" x2="1704" y2="1318" stroke="#000" stroke-width="2"/>
<line x1="1794" y1="1313" x2="1794" y2="1318" stroke="#000" stroke-width="2"/>
<text transform="translate(1794,1355.8) scale(1,1.02)" font-size="29.17" text-anchor="middle" letter-spacing="-0.2" stroke="#000" stroke-width="0.4">60</text>
<line x1="1884" y1="1313" x2="1884" y2="1318" stroke="#000" stroke-width="2"/>
<line x1="1974" y1="1313" x2="1974" y2="1318" stroke="#000" stroke-width="2"/>
<text transform="translate(1974,1355.8) scale(1,1.02)" font-size="29.17" text-anchor="middle" letter-spacing="-0.2" stroke="#000" stroke-width="0.4">70</text>
<text transform="translate(1577.3,1395.5) scale(1,1.02)" font-size="29.17" text-anchor="middle" letter-spacing="-0.05" stroke="#000" stroke-width="0.4">Chilling days (days)</text>
<text transform="translate(2109.6,693.5) rotate(-90) scale(1,1.02)" font-size="29.17" text-anchor="middle" stroke="#000" stroke-width="0.4">S<tspan font-size="21" dy="14.5">T</tspan><tspan dy="-14.5"> (days </tspan><tspan font-size="22" dy="-12.5">o</tspan><tspan dy="12.5">C</tspan><tspan font-size="21" dy="-12.5">-1</tspan><tspan dy="12.5">)</tspan></text>
<text transform="translate(1110.6,65.5) scale(1,1.02)" font-size="32" font-weight="bold" stroke="#000" stroke-width="0.3">c</text>
</g>
</svg>
</body>
</html>
